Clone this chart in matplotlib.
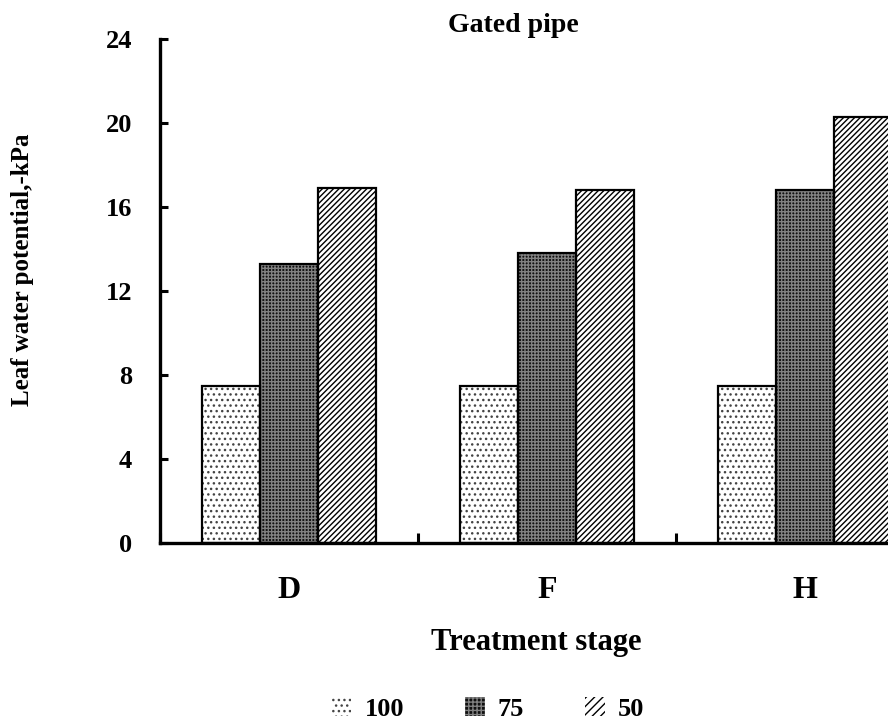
import matplotlib
matplotlib.use("Agg")
import matplotlib.pyplot as plt
import numpy as np
from matplotlib.patches import Patch

categories = ["D", "F", "H"]
series_names = ["100", "75", "50"]
values_100 = [7.5, 7.5, 7.5]
values_75 = [13.3, 13.8, 16.8]
values_50 = [16.9, 16.8, 20.3]
yticks = [0, 4, 8, 12, 16, 20, 24]

plt.rcParams['font.family'] = ['Liberation Serif', 'DejaVu Serif']
plt.rcParams['font.weight'] = 'bold'
plt.rcParams['hatch.linewidth'] = 1.0

W, H = 888, 722
fig = plt.figure(figsize=(W / 100, H / 100), dpi=100)
ax = fig.add_axes([160 / W, (H - 543) / H, 774 / W, (543 - 39) / H])

x = np.arange(len(categories))
w = 0.225
styles = [
    dict(face='white', hatch='...', hc='#444444'),
    dict(face='#101010', hatch='+++++', hc='#808080'),
    dict(face='white', hatch='//////', hc='black'),
]
series = [values_100, values_75, values_50]
handles = []
for i, (vals, st) in enumerate(zip(series, styles)):
    pos = x + (i - 1) * w
    ax.bar(pos, vals, width=w, color=st['face'], hatch=st['hatch'],
           edgecolor=st['hc'], linewidth=0, zorder=2)
    ax.bar(pos, vals, width=w, fill=False, edgecolor='black', linewidth=1.6, zorder=3)
    handles.append(Patch(facecolor=st['face'], hatch=st['hatch'][:4], edgecolor=st['hc'],
                         linewidth=0))

ax.set_xlim(-0.5, len(categories) - 0.5)
ax.set_ylim(0, 24)
ax.set_yticks(yticks)
ax.set_yticklabels([str(t) for t in yticks])
ax.set_xticks(np.arange(len(categories) + 1) - 0.5)
ax.set_xticklabels([])
ax.set_xticks(x, minor=True)
ax.set_xticklabels(categories, minor=True)

for s in ['top', 'right']:
    ax.spines[s].set_visible(False)
for s in ['left', 'bottom']:
    ax.spines[s].set_linewidth(2.4)

ax.tick_params(axis='y', which='major', direction='in', length=6, width=2.2,
               labelsize=19, pad=20)
ax.tick_params(axis='x', which='major', direction='in', length=7, width=2.2)
ax.tick_params(axis='x', which='minor', length=0, labelsize=23, pad=24)

fig.text(513 / W, 1 - 32 / H, "Gated pipe", ha='center', va='baseline',
         fontsize=20, fontweight='bold')
fig.text(536 / W, 1 - 650 / H, "Treatment stage", ha='center', va='baseline',
         fontsize=22, fontweight='bold')
fig.text(23 / W, 1 - 270 / H, "Leaf water potential,-kPa", ha='center', va='center',
         rotation=90, fontsize=18, fontweight='bold')

leg = fig.legend(handles, series_names, loc='center', bbox_to_anchor=(488 / W, 1 - 709 / H),
                 ncol=3, frameon=False, fontsize=19, handlelength=0.75, handleheight=0.75,
                 handletextpad=0.5, columnspacing=2.3, borderpad=0, borderaxespad=0)
for p in leg.get_patches():
    p.set_linewidth(0)

fig.savefig("out.png", dpi=100)
